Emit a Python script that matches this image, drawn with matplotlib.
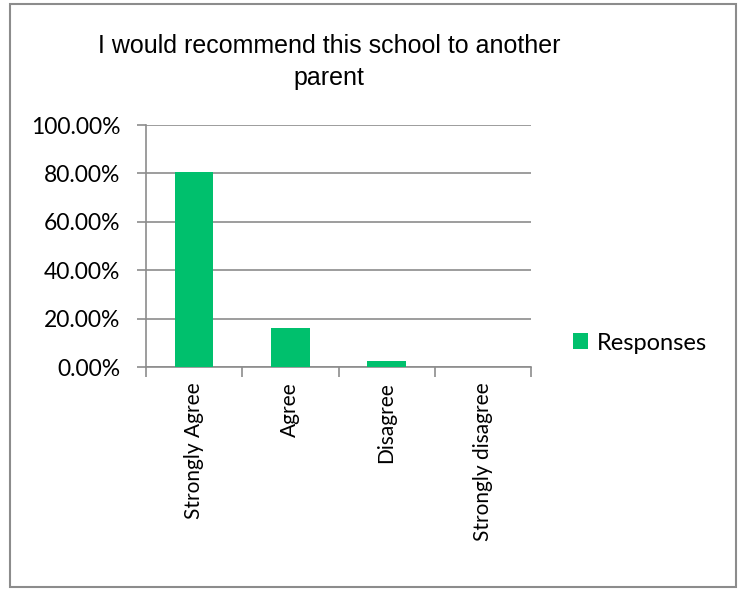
import matplotlib.pyplot as plt
from matplotlib.patches import Rectangle
from matplotlib.ticker import FuncFormatter

categories = ["Strongly Agree", "Agree", "Disagree", "Strongly disagree"]
responses = [80.6, 16.1, 2.6, 0.0]
y_ticks = [0, 20, 40, 60, 80, 100]

bar_color = "#00C06D"
grid_color = "#8C8C8C"
label_font = ["Lato", "DejaVu Sans"]

fig = plt.figure(figsize=(7.46, 5.90), dpi=100)
ax = fig.add_axes([146 / 746, 1 - 367 / 590, (531 - 146) / 746, (367 - 125) / 590])

# outer chart border
fig.patches.append(Rectangle((10 / 746, 3 / 590), 726 / 746, 583 / 590,
                             transform=fig.transFigure, fill=False,
                             edgecolor="#8C8C8C", linewidth=1.5))

x = range(len(categories))
ax.bar(x, responses, width=0.4, color=bar_color, label="Responses", zorder=3)

ax.set_xlim(-0.5, len(categories) - 0.5)
ax.set_ylim(0, 100)
ax.set_yticks(y_ticks)
ax.yaxis.set_major_formatter(FuncFormatter(lambda v, p: f"{v:.2f}%"))
ax.yaxis.grid(True, color=grid_color, linewidth=1.2, zorder=0)

# category ticks sit between bars
ax.set_xticks([i - 0.5 for i in range(len(categories) + 1)])
ax.set_xticklabels([])
ax.set_xticks(list(x), minor=True)
ax.set_xticklabels(categories, minor=True, rotation=90, fontsize=15,
                   family=label_font)
ax.tick_params(axis="x", which="minor", length=0, pad=11)
ax.tick_params(axis="x", which="major", length=7, color=grid_color, width=1.2)
ax.tick_params(axis="y", length=6.5, color=grid_color, width=1.2, pad=12)
for lab in ax.get_yticklabels():
    lab.set_family(label_font)
    lab.set_fontsize(16.5)

for side in ("top", "right"):
    ax.spines[side].set_visible(False)
for side in ("left", "bottom"):
    ax.spines[side].set_color(grid_color)
    ax.spines[side].set_linewidth(1.2)

fig.text(329 / 746, 1 - 62 / 590, "I would recommend this school to another\nparent",
         ha="center", va="center", fontsize=18, family="Liberation Sans",
         linespacing=1.4)

fig.legend(loc="center left", bbox_to_anchor=(573 / 746, 1 - 343 / 590),
           frameon=False, prop={"family": label_font, "size": 17},
           handlelength=0.65, handleheight=0.65, handletextpad=0.35,
           borderaxespad=0, borderpad=0)

fig.savefig("out.png", dpi=100)
